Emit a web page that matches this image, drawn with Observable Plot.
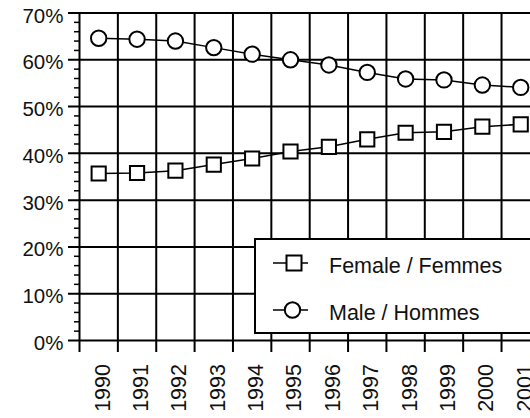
<!DOCTYPE html>
<html><head><meta charset="utf-8">
<script src="https://cdn.jsdelivr.net/npm/d3@7"></script>
<script src="https://cdn.jsdelivr.net/npm/@observablehq/plot@0.6"></script>
<style>
html,body{margin:0;padding:0;overflow:hidden;background:#fff;}
#chart{position:relative;width:530px;height:418px;overflow:hidden;}
#legend{position:absolute;left:0;top:0;}
</style></head><body><div id="chart"></div>
<script>
const years = [1990,1991,1992,1993,1994,1995,1996,1997,1998,1999,2000,2001];
const female = [35.7,35.8,36.3,37.6,38.9,40.4,41.4,43.0,44.4,44.6,45.7,46.2];
const male = [64.6,64.4,64.0,62.6,61.2,60.0,58.9,57.3,55.9,55.7,54.6,54.1];
const yTicks = [0,10,20,30,40,50,60,70];
const seriesNames = ["Female / Femmes", "Male / Hommes"];

const font = "'Liberation Sans', Arial, Helvetica, sans-serif";
const boundaries = years.map(y => y - 0.5);
const minorTicks = d3.range(0, 71, 2).filter(v => v % 10 !== 0);
const femaleRows = years.map((y, i) => ({year: y, value: female[i], series: seriesNames[0]}));
const maleRows = years.map((y, i) => ({year: y, value: male[i], series: seriesNames[1]}));

const chart = Plot.plot({
  width: 530,
  height: 418,
  marginLeft: 79,
  marginRight: 0,
  marginTop: 12.5,
  marginBottom: 78,
  style: {fontFamily: font, fontSize: "20px", color: "#000", background: "#fff"},
  x: {domain: [years[0] - 0.5, years[years.length - 1] + 0.5], range: [79, 539.4], axis: null},
  y: {domain: [0, 70], range: [340, 12.5]},
  marks: [
    Plot.ruleY(yTicks, {stroke: "#000", strokeWidth: 2, insetLeft: -11}),
    Plot.ruleX(boundaries, {stroke: "#000", strokeWidth: 2, insetBottom: -12}),
    Plot.axisY(minorTicks, {tickSize: 5, tickFormat: () => "", stroke: "#000", strokeWidth: 1.5, label: null}),
    Plot.text(yTicks, {y: d => d, frameAnchor: "left", dx: -16, dy: 3, textAnchor: "end", text: d => d + "%", fontSize: 20.5, fill: "#111"}),
    Plot.text(years, {x: d => d, frameAnchor: "bottom", dy: 23.5, dx: 4, rotate: -90, textAnchor: "end", lineAnchor: "middle", text: d => String(d), fontSize: 21.5, fill: "#111"}),
    Plot.line(femaleRows, {x: "year", y: "value", stroke: "#000", strokeWidth: 1.5}),
    Plot.line(maleRows, {x: "year", y: "value", stroke: "#000", strokeWidth: 1.5}),
    Plot.dot(femaleRows, {x: "year", y: "value", symbol: "square", r: 8, fill: "#fff", stroke: "#000", strokeWidth: 2}),
    Plot.dot(maleRows, {x: "year", y: "value", symbol: "circle", r: 7.7, fill: "#fff", stroke: "#000", strokeWidth: 2})
  ]
});
document.getElementById("chart").appendChild(chart);

// Legend overlay
const leg = d3.select("#chart").append("svg").attr("id", "legend")
  .attr("width", 530).attr("height", 418);
leg.append("rect").attr("x", 255).attr("y", 239).attr("width", 300).attr("height", 94)
  .attr("fill", "#fff").attr("stroke", "#000").attr("stroke-width", 2);
const items = [{name: seriesNames[0], sym: "square", cy: 263}, {name: seriesNames[1], sym: "circle", cy: 310}];
items.forEach(it => {
  leg.append("line").attr("x1", 273).attr("x2", 308).attr("y1", it.cy).attr("y2", it.cy)
    .attr("stroke", "#000").attr("stroke-width", 1.5);
  if (it.sym === "square") {
    leg.append("rect").attr("x", 286.5).attr("y", it.cy - 7.5).attr("width", 15).attr("height", 15)
      .attr("fill", "#fff").attr("stroke", "#000").attr("stroke-width", 2);
  } else {
    leg.append("circle").attr("cx", 292.5).attr("cy", it.cy).attr("r", 7.7)
      .attr("fill", "#fff").attr("stroke", "#000").attr("stroke-width", 2);
  }
  leg.append("text").attr("x", 329).attr("y", it.cy + 10).attr("font-family", font)
    .attr("font-size", 21.5).attr("fill", "#111").text(it.name);
});
</script></body></html>
